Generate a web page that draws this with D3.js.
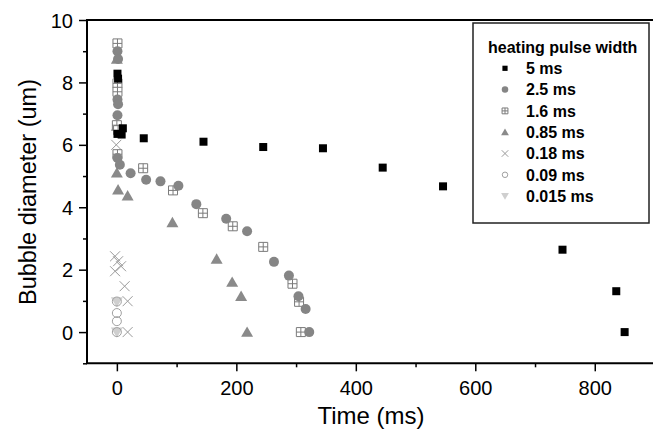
<!DOCTYPE html>
<html>
<head>
<meta charset="utf-8">
<script src="https://cdn.jsdelivr.net/npm/d3@7"></script>
<style>
  html, body { margin: 0; padding: 0; background: #fff; }
  svg { display: block; font-family: "Liberation Sans", Arial, sans-serif; }
</style>
</head>
<body>
<svg id="chart" width="653" height="435"></svg>
<script>
// ---- data (time in ms, bubble diameter in um) ----
const seriesNames = ["5 ms", "2.5 ms", "1.6 ms", "0.85 ms", "0.18 ms", "0.09 ms", "0.015 ms"];
const legendTitle = "heating pulse width";
const xTicks = [0, 200, 400, 600, 800];
const yTicks = [0, 2, 4, 6, 8, 10];
const xTitle = "Time (ms)";
const yTitle = "Bubble diameter (um)";

const s5ms_t   = [1, 2, 1, 10, 8, 45, 145, 245, 345, 445, 546, 746, 836, 850];
const s5ms_d   = [8.28, 8.12, 6.35, 6.53, 6.33, 6.21, 6.1, 5.93, 5.89, 5.27, 4.67, 2.64, 1.31, 0];

const s2p5_t   = [1, 2, 1, 2, 1, 1, 5, 23, 49, 73, 103, 133, 183, 218, 263, 288, 304, 316, 322];
const s2p5_d   = [9.0, 8.75, 7.45, 7.3, 6.95, 5.58, 5.36, 5.09, 4.88, 4.83, 4.69, 4.1, 3.63, 3.23, 2.25, 1.81, 1.15, 0.74, 0];

const s1p6_t   = [1, 1, 1, 0, 2, 1, 44, 94, 144, 194, 245, 294, 305, 308];
const s1p6_d   = [9.25, 7.97, 7.7, 6.63, 6.47, 5.7, 5.25, 4.54, 3.81, 3.39, 2.73, 1.55, 0.97, 0];

const s0p85_t  = [0, 0, 0, 2, 18, 93, 167, 193, 208, 218];
const s0p85_d  = [8.75, 6.6, 5.1, 4.56, 4.37, 3.51, 2.34, 1.6, 1.15, 0];

const s0p18_t  = [-1, -3, 2, 7, -3, 13, 18, 18];
const s0p18_d  = [6.0, 2.43, 2.27, 2.11, 1.95, 1.47, 0.99, 0];

const s0p09_t  = [0, 0, 0, 0];
const s0p09_d  = [0.98, 0.61, 0.35, 0];

const s0p015_t = [0, 0];
const s0p015_d = [0.97, 0];

const seriesT = [s5ms_t, s2p5_t, s1p6_t, s0p85_t, s0p18_t, s0p09_t, s0p015_t];
const seriesD = [s5ms_d, s2p5_d, s1p6_d, s0p85_d, s0p18_d, s0p09_d, s0p015_d];

// ---- drawing ----
const svg = d3.select("#chart");
const x = d3.scaleLinear().domain([-50, 900]).range([87, 654.5]);
const y = d3.scaleLinear().domain([-1, 10]).range([363.3, 20]);

// symbol styles per series
const styles = [
  { kind: "square",   fill: "#000",    stroke: "none",    size: 8 },
  { kind: "circle",   fill: "#858585", stroke: "none",    size: 10 },
  { kind: "boxplus",  fill: "#fff",    stroke: "#7a7a7a", size: 9 },
  { kind: "triangle", fill: "#8a8a8a", stroke: "none",    size: 12 },
  { kind: "cross",    fill: "none",    stroke: "#9a9a9a", size: 10 },
  { kind: "ocircle",  fill: "none",    stroke: "#a0a0a0", size: 10 },
  { kind: "tridown",  fill: "#cfcfcf", stroke: "none",    size: 12 }
];

function drawSymbol(g, st, cx, cy, scale) {
  const s = st.size * scale;
  const h = s / 2;
  if (st.kind === "square") {
    g.append("rect").attr("x", cx - h).attr("y", cy - h).attr("width", s).attr("height", s).attr("fill", st.fill);
  } else if (st.kind === "circle") {
    g.append("circle").attr("cx", cx).attr("cy", cy).attr("r", h).attr("fill", st.fill);
  } else if (st.kind === "ocircle") {
    g.append("circle").attr("cx", cx).attr("cy", cy).attr("r", h - 0.5).attr("fill", st.fill)
      .attr("stroke", st.stroke).attr("stroke-width", 1);
  } else if (st.kind === "boxplus") {
    const p = d3.path();
    p.rect(cx - h, cy - h, s, s);
    p.moveTo(cx, cy - h); p.lineTo(cx, cy + h);
    p.moveTo(cx - h, cy); p.lineTo(cx + h, cy);
    g.append("path").attr("d", p.toString()).attr("fill", st.fill).attr("stroke", st.stroke).attr("stroke-width", 1);
  } else if (st.kind === "cross") {
    const p = d3.path();
    p.moveTo(cx - h, cy - h); p.lineTo(cx + h, cy + h);
    p.moveTo(cx - h, cy + h); p.lineTo(cx + h, cy - h);
    g.append("path").attr("d", p.toString()).attr("fill", "none").attr("stroke", st.stroke).attr("stroke-width", 1);
  } else if (st.kind === "triangle" || st.kind === "tridown") {
    const th = s * 0.866;
    const dir = st.kind === "triangle" ? 1 : -1;
    const p = d3.path();
    p.moveTo(cx, cy - dir * th * 0.55);
    p.lineTo(cx + h, cy + dir * th * 0.45);
    p.lineTo(cx - h, cy + dir * th * 0.45);
    p.closePath();
    g.append("path").attr("d", p.toString()).attr("fill", st.fill);
  }
}

// axes frame
const axG = svg.append("g");
axG.append("line").attr("x1", x(-50)).attr("x2", x(-50)).attr("y1", y(10)).attr("y2", y(-1))
  .attr("stroke", "#000").attr("stroke-width", 2);
axG.append("line").attr("x1", x(-50) - 1).attr("x2", x(900)).attr("y1", y(-1)).attr("y2", y(-1))
  .attr("stroke", "#000").attr("stroke-width", 2);
axG.append("line").attr("x1", x(-50) - 1).attr("x2", x(900)).attr("y1", y(10)).attr("y2", y(10))
  .attr("stroke", "#000").attr("stroke-width", 2);

// x axis
const xAxis = d3.axisBottom(x).tickValues(xTicks).tickSize(8).tickSizeOuter(0).tickFormat(d3.format("d"));
const xg = svg.append("g").attr("transform", `translate(0,${y(-1)})`).call(xAxis);
xg.select(".domain").remove();
xg.selectAll(".tick line").attr("stroke-width", 1.5);
xg.selectAll(".tick text").attr("font-size", 20).attr("fill", "#000").attr("dy", null).attr("y", 32)
  .attr("font-family", "Liberation Sans, Arial, sans-serif");
const xMinor = d3.axisBottom(x).tickValues(xTicks.map(v => v + 100)).tickSize(4).tickFormat("");
const xmg = svg.append("g").attr("transform", `translate(0,${y(-1)})`).call(xMinor);
xmg.select(".domain").remove();
xmg.selectAll(".tick line").attr("stroke-width", 1.5);

// y axis
const yAxis = d3.axisLeft(y).tickValues(yTicks).tickSize(8).tickSizeOuter(0).tickFormat(d3.format("d"));
const yg = svg.append("g").attr("transform", `translate(${x(-50)},0)`).call(yAxis);
yg.select(".domain").remove();
yg.selectAll(".tick line").attr("stroke-width", 1.5);
yg.selectAll(".tick text").attr("font-size", 20).attr("fill", "#000").attr("x", -14).attr("dy", "0.35em")
  .attr("font-family", "Liberation Sans, Arial, sans-serif");
const yMinor = d3.axisLeft(y).tickValues(yTicks.slice(0, -1).map(v => v + 1).concat([-1])).tickSize(4).tickFormat("");
const ymg = svg.append("g").attr("transform", `translate(${x(-50)},0)`).call(yMinor);
ymg.select(".domain").remove();
ymg.selectAll(".tick line").attr("stroke-width", 1.5);

// titles
svg.append("text").attr("x", 371).attr("y", 424).attr("text-anchor", "middle")
  .attr("font-size", 24).attr("fill", "#000").text(xTitle);
svg.append("text").attr("transform", "translate(36,192) rotate(-90)").attr("text-anchor", "middle")
  .attr("font-size", 23.5).attr("fill", "#000").text(yTitle);

// data points (draw lighter series first so darker sit on top like reference)
const plotG = svg.append("g");
const order = [6, 5, 4, 3, 2, 1, 0];
order.forEach(i => {
  const g = plotG.append("g");
  seriesT[i].forEach((t, k) => drawSymbol(g, styles[i], x(t), y(seriesD[i][k]), 1));
});

// legend
const lg = svg.append("g");
lg.append("rect").attr("x", 473).attr("y", 23).attr("width", 176).attr("height", 200)
  .attr("fill", "#fff").attr("stroke", "#222").attr("stroke-width", 1.5);
lg.append("text").attr("x", 488).attr("y", 52.5).attr("font-size", 16).attr("font-weight", "bold")
  .attr("fill", "#000").text(legendTitle);
seriesNames.forEach((name, i) => {
  const cy = 68.3 + i * 21.3;
  drawSymbol(lg, styles[i], 505, cy, 0.65);
  lg.append("text").attr("x", 526).attr("y", cy).attr("dy", "0.36em").attr("font-size", 16)
    .attr("font-weight", "bold").attr("fill", "#000").text(name);
});
</script>
</body>
</html>
